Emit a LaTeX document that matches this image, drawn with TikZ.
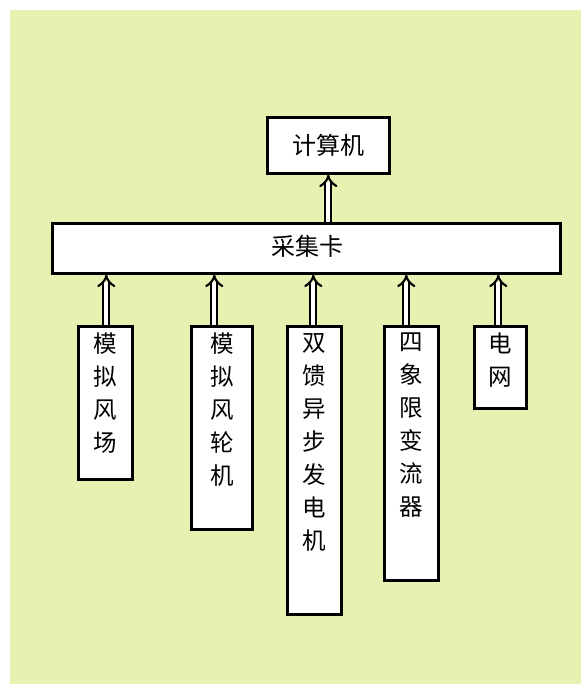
\documentclass[tikz,border=0pt]{standalone}
\usepackage{fontspec}
\setmainfont{Noto Sans CJK SC}
\usetikzlibrary{arrows.meta}
\definecolor{bgcol}{RGB}{230,242,177}
\begin{document}
\begin{tikzpicture}[x=1pt,y=-1pt,
  box/.style={draw=black,line width=2.6pt,fill=white,inner sep=0pt,anchor=north west},
  vtext/.style={font=\fontsize{23.5}{33}\selectfont,align=center,anchor=north,inner sep=0pt},
  arr/.style={draw=black,line width=2.1pt,double=white,double distance=4pt,-{Implies}}]
\useasboundingbox (0,0) rectangle (581,684);
\fill[white] (0,0) rectangle (581,684);
\fill[bgcol] (10,10) rectangle (581,684);
% top boxes
\node[box,minimum width=122pt,minimum height=56pt,font=\fontsize{24}{28}\selectfont] (pc) at (266,116) {计算机};
\node[box,minimum width=508pt,minimum height=50pt] (card) at (51,222) {};
\node[font=\fontsize{24}{28}\selectfont,inner sep=0pt] (cardtxt) at (307,246) {采集卡};
% lower boxes
\node[box,minimum width=54pt,minimum height=153pt,
  label={[vtext,yshift=-8pt]north:模\\拟\\风\\场}] (b1) at (77,325) {};
\node[box,minimum width=61pt,minimum height=203pt,
  label={[vtext,yshift=-8pt]north:模\\拟\\风\\轮\\机}] (b2) at (190,325) {};
\node[box,minimum width=54pt,minimum height=288pt,
  label={[vtext,yshift=-8pt]north:双\\馈\\异\\步\\发\\电\\机}] (b3) at (286,325) {};
\node[box,minimum width=54pt,minimum height=254pt,
  label={[vtext,yshift=-8pt]north:四\\象\\限\\变\\流\\器}] (b4) at (383,325) {};
\node[box,minimum width=52pt,minimum height=82pt,
  label={[vtext,yshift=-8pt]north:电\\网}] (b5) at (473,325) {};
% arrows
\draw[arr] ([xshift=1pt]b1.north) -- ([xshift=1pt]b1.north |- card.south);
\draw[arr] ([xshift=-7.5pt]b2.north) -- ([xshift=-7.5pt]b2.north |- card.south);
\draw[arr] ([xshift=-1pt]b3.north) -- ([xshift=-1pt]b3.north |- card.south);
\draw[arr] ([xshift=-5pt]b4.north) -- ([xshift=-5pt]b4.north |- card.south);
\draw[arr] ([xshift=-2pt]b5.north) -- ([xshift=-2pt]b5.north |- card.south);
\draw[arr] (card.north -| pc.south) -- (pc.south);
\end{tikzpicture}
\end{document}
